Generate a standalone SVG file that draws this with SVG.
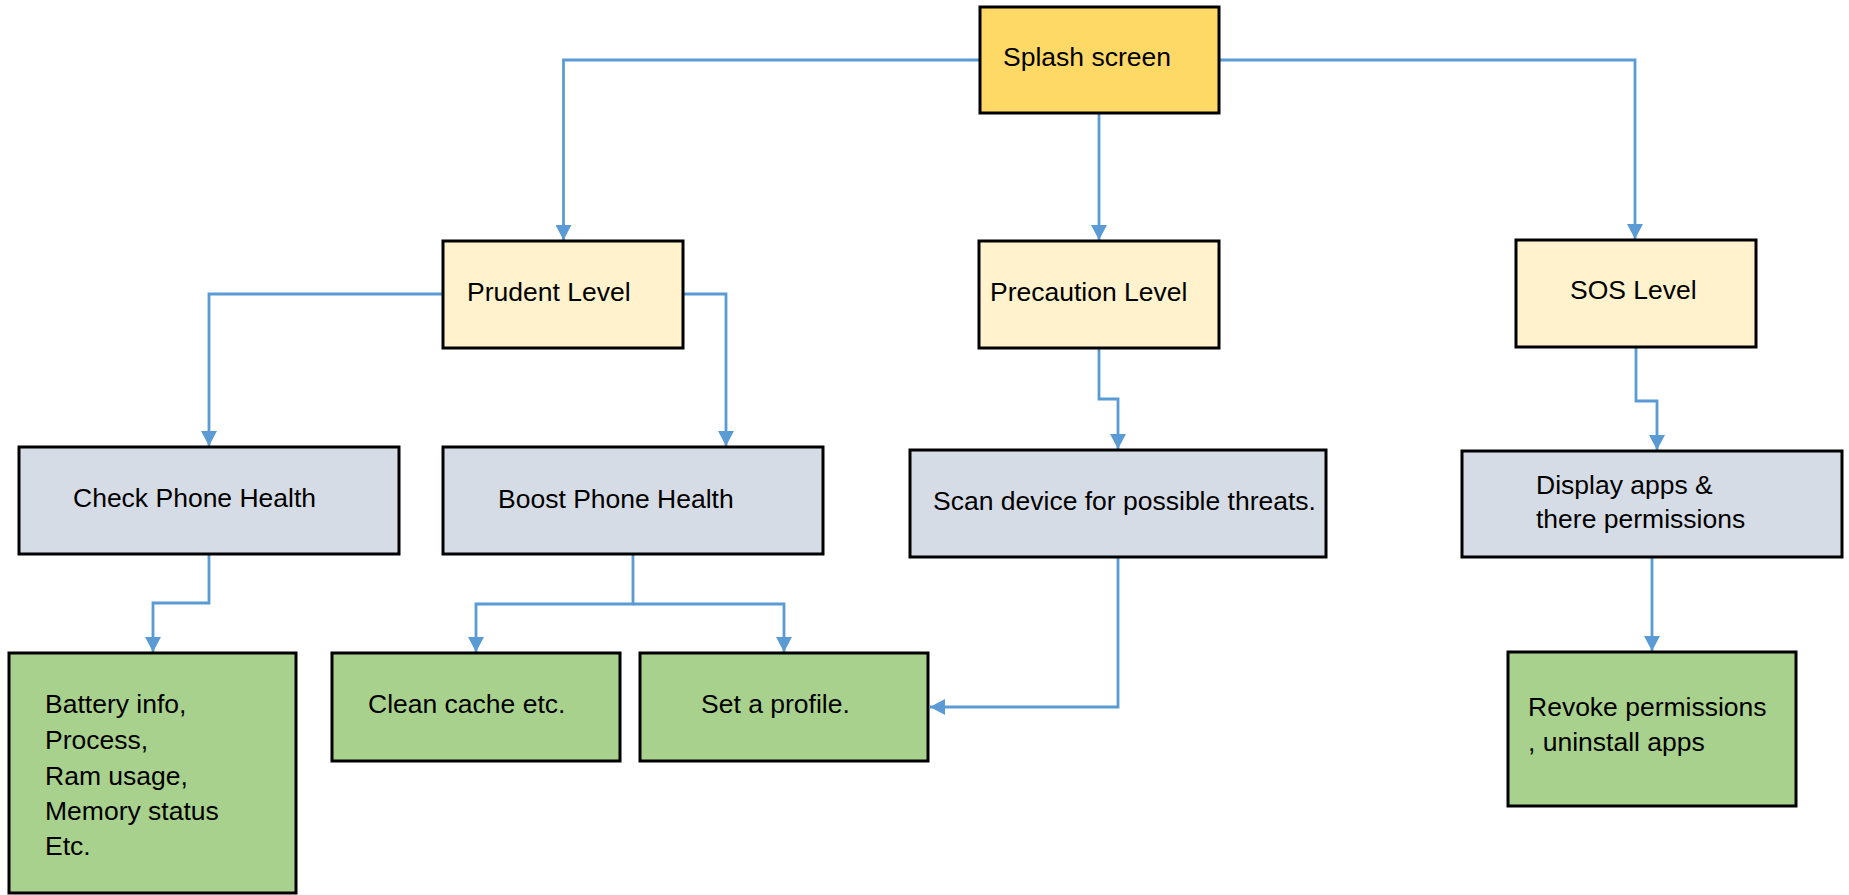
<svg xmlns="http://www.w3.org/2000/svg" width="1849" height="895" viewBox="0 0 1849 895">
<style>
  .box { stroke: #000; stroke-width: 3; }
  .splash { fill: #FFD966; }
  .level { fill: #FFF2CC; }
  .grey { fill: #D6DCE5; }
  .green { fill: #A9D18E; }
  text { font-family: "Liberation Sans", Arial, sans-serif; font-size: 26.5px; fill: #000; }
  .conn { fill: none; stroke: #5B9BD5; stroke-width: 2.8; marker-end: url(#arrow); }
</style>
<defs>
  <marker id="arrow" markerUnits="userSpaceOnUse" markerWidth="16" markerHeight="16" refX="15" refY="8" orient="auto">
    <path d="M0,0 L15,8 L0,16 z" fill="#5B9BD5"/>
  </marker>
</defs>
<rect width="1849" height="895" fill="#fff"/>
<g id="connectors">
  <path class="conn" d="M979 60 H563.5 V240"/>
  <path class="conn" d="M1099 113 V240"/>
  <path class="conn" d="M1219 60 H1635 V239"/>
  <path class="conn" d="M443 294 H209 V446"/>
  <path class="conn" d="M683 294 H726 V446"/>
  <path class="conn" d="M1099 348 V399 H1118 V449"/>
  <path class="conn" d="M1636 347 V401 H1657 V450"/>
  <path class="conn" d="M209 554 V603 H153 V652"/>
  <path class="conn" d="M633 554 V604 H476 V652"/>
  <path class="conn" d="M633 604 H784 V652"/>
  <path class="conn" d="M1118 557 V707 H930"/>
  <path class="conn" d="M1652 557 V651"/>
</g>
<g id="splash"><rect class="box splash" x="980" y="7" width="239" height="106"/><text x="1003" y="66">Splash screen</text></g>
<g id="prudent"><rect class="box level" x="443" y="241" width="240" height="107"/><text x="467" y="301">Prudent Level</text></g>
<g id="precaution"><rect class="box level" x="979" y="241" width="240" height="107"/><text x="990" y="301">Precaution Level</text></g>
<g id="sos"><rect class="box level" x="1516" y="240" width="240" height="107"/><text x="1570" y="299">SOS Level</text></g>
<g id="check"><rect class="box grey" x="19" y="447" width="380" height="107"/><text x="73" y="507">Check Phone Health</text></g>
<g id="boost"><rect class="box grey" x="443" y="447" width="380" height="107"/><text x="498" y="508">Boost Phone Health</text></g>
<g id="scan"><rect class="box grey" x="910" y="450" width="416" height="107"/><text x="933" y="510">Scan device for possible threats.</text></g>
<g id="display"><rect class="box grey" x="1462" y="451" width="380" height="106"/><text x="1536" y="494">Display apps &amp;</text><text x="1536" y="528">there permissions</text></g>
<g id="battery"><rect class="box green" x="9" y="653" width="287" height="240"/>
  <text x="45" y="713">Battery info,</text><text x="45" y="749">Process,</text><text x="45" y="785">Ram usage,</text><text x="45" y="820">Memory status</text><text x="45" y="855">Etc.</text></g>
<g id="clean"><rect class="box green" x="332" y="653" width="288" height="108"/><text x="368" y="713">Clean cache etc.</text></g>
<g id="profile"><rect class="box green" x="640" y="653" width="288" height="108"/><text x="701" y="713">Set a profile.</text></g>
<g id="revoke"><rect class="box green" x="1508" y="652" width="288" height="154"/><text x="1528" y="716">Revoke permissions</text><text x="1528" y="751">, uninstall apps</text></g>
</svg>
